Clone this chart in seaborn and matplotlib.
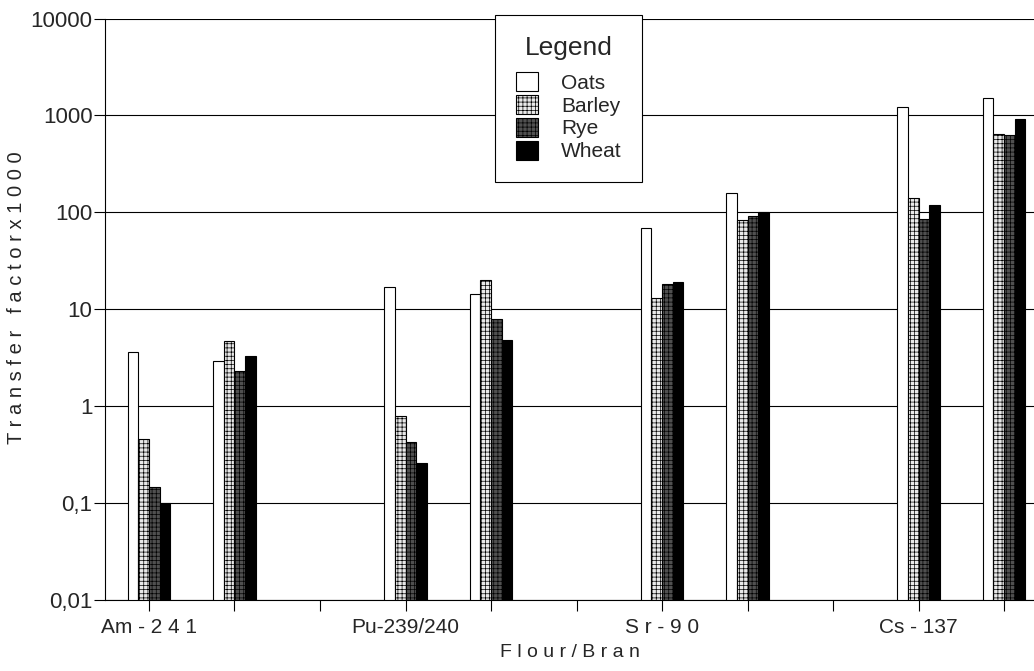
import matplotlib
matplotlib.use('Agg')
import matplotlib.pyplot as plt
import seaborn as sns
import pandas as pd
import numpy as np
from matplotlib.patches import Patch

sns.set_style('white')
plt.rcParams['font.family'] = ['Liberation Sans', 'DejaVu Sans']
plt.rcParams['hatch.linewidth'] = 0.5

# Data (transfer factor x 1000, log scale)
nuclides = ['Am-241', 'Pu-239/240', 'Sr-90', 'Cs-137']
nuclide_labels = ['Am - 2 4 1', 'Pu-239/240', 'S r - 9 0', 'Cs - 137']
products = ['Flour', 'Bran']
crops = ['Oats', 'Barley', 'Rye', 'Wheat']

# order: Am flour, Am bran, Pu flour, Pu bran, Sr flour, Sr bran, Cs flour, Cs bran
oats = [3.6, 2.9, 17, 14.3, 69, 160, 1210, 1510]
barley = [0.46, 4.7, 0.79, 19.9, 13.2, 84, 140, 643]
rye = [0.146, 2.3, 0.43, 8.0, 18.2, 91, 85, 622]
wheat = [0.1, 3.3, 0.26, 4.8, 19, 102, 120, 925]

y_ticks = [0.01, 0.1, 1, 10, 100, 1000, 10000]
y_ticklabels = ['0,01', '0,1', '1', '10', '100', '1000', '10000']

# Build long table
groups = [f'{n}|{p}' for n in nuclides for p in products]
rows = []
for crop, vals in zip(crops, [oats, barley, rye, wheat]):
    for g, v in zip(groups, vals):
        rows.append({'group': g, 'crop': crop, 'value': v})
df = pd.DataFrame(rows)

# category order with an empty slot after each nuclide
order = []
for i, n in enumerate(nuclides):
    order += [f'{n}|Flour', f'{n}|Bran', f'gap{i}']

fig = plt.figure(figsize=(10.34, 6.71), dpi=100)
ax = fig.add_axes([0.1015, 0.106, 0.8985, 0.8663])

sns.barplot(data=df, x='group', y='value', hue='crop', order=order,
            hue_order=crops, width=0.5, ax=ax, legend=False, errorbar=None)

styles = [
    dict(facecolor='white', hatch=None),
    dict(facecolor='#e8e8e8', hatch='++++'),
    dict(facecolor='#505050', hatch='++++'),
    dict(facecolor='black', hatch=None),
]
for cont, st in zip(ax.containers, styles):
    for bar in cont:
        bar.set_facecolor(st['facecolor'])
        bar.set_edgecolor('black')
        bar.set_linewidth(0.8)
        if st['hatch']:
            bar.set_hatch(st['hatch'])

ax.set_yscale('log')
ax.set_ylim(0.01, 10000)
ax.set_yticks(y_ticks)
ax.set_yticklabels(y_ticklabels)
ax.yaxis.set_minor_locator(matplotlib.ticker.NullLocator())

# ticks at every slot, labels only at flour slots
ax.set_xticks(range(len(order)))
xlabels = []
for i in range(len(order)):
    xlabels.append(nuclide_labels[i // 3] if i % 3 == 0 else '')
ax.set_xticklabels(xlabels)
ax.set_xlim(-0.515, 10.35)

ax.grid(True, axis='y', color='black', linewidth=0.8)
ax.set_axisbelow(True)
for s in ['top', 'right']:
    ax.spines[s].set_visible(False)
for s in ['left', 'bottom']:
    ax.spines[s].set_color('black')
    ax.spines[s].set_linewidth(0.8)

ax.tick_params(axis='y', which='major', left=True, length=8, width=0.8,
               labelsize=16, pad=1, color='black')
ax.tick_params(axis='x', which='major', bottom=True, length=8, width=0.8,
               labelsize=15, pad=5, color='black')

ax.set_ylabel('T r a n s f e r   f a c t o r x 1 0 0 0', fontsize=14.5)
ax.yaxis.set_label_coords(-0.085, 0.52)
ax.set_xlabel('F l o u r / B r a n', fontsize=14, labelpad=5)

handles = [Patch(facecolor=st['facecolor'], edgecolor='black', linewidth=0.8,
                 hatch=st['hatch'], label=c) for c, st in zip(crops, styles)]
leg = fig.legend(handles=handles, title='Legend', loc='upper left',
                 bbox_to_anchor=(0.479, 0.978), fontsize=15, title_fontsize=19,
                 frameon=True, fancybox=False, edgecolor='black',
                 handlelength=1.05, handleheight=1.0, handletextpad=1.1,
                 borderpad=1.0, borderaxespad=0, labelspacing=0.12)
leg.get_frame().set_linewidth(0.8)
leg.get_frame().set_alpha(1)
# extra gap between the title and the entries
leg._legend_box.sep = 9

fig.savefig('out.png', dpi=100)
